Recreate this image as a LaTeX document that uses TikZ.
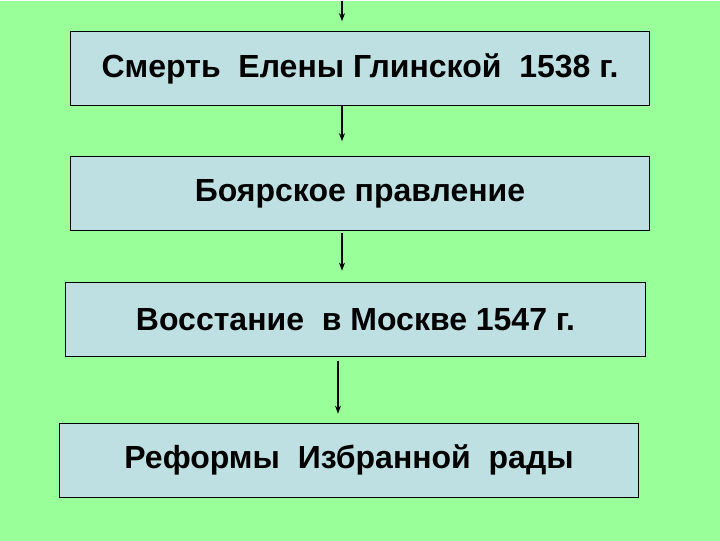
\documentclass[tikz,border=0pt]{standalone}
\usepackage{fontspec}
\setmainfont{Liberation Sans}
\usetikzlibrary{arrows.meta}
\definecolor{bggreen}{RGB}{153,255,153}
\definecolor{boxblue}{RGB}{190,224,226}

\begin{document}
\begin{tikzpicture}[x=1bp,y=-1bp,
  box/.style={draw=black, fill=boxblue, line width=1bp, inner sep=0pt,
    minimum width=579bp, minimum height=74bp,
    font=\bfseries\fontsize{32bp}{38bp}\selectfont},
  link/.style={-{Stealth[length=8bp,width=6bp]}, line width=1.3bp}]
% Background
\fill[bggreen] (0,0) rectangle (720,540);

% Boxes (top to bottom)
\node[box] (smert) at (360,68) {Смерть\ \ Елены Глинской\ \ 1538 г.};
\node[box] (boyar) at (360,193) {Боярское правление};
\node[box] (vosst) at (355.5,318.5) {Восстание\ \ в Москве 1547 г.};
\node[box] (reform) at (349,459.5) {Реформы\ \ Избранной\ \ рады};

% Arrows
\coordinate (top) at (342,0);
\coordinate (low) at (338,0);
\draw[link, shorten >=10bp] (top) -- (top |- smert.north);
\draw[link, shorten >=15bp] (top |- smert.south) -- (top |- boyar.north);
\draw[link, shorten <=2bp, shorten >=11bp] (top |- boyar.south) -- (top |- vosst.north);
\draw[link, shorten <=4bp, shorten >=9bp] (low |- vosst.south) -- (low |- reform.north);
\end{tikzpicture}
\end{document}
